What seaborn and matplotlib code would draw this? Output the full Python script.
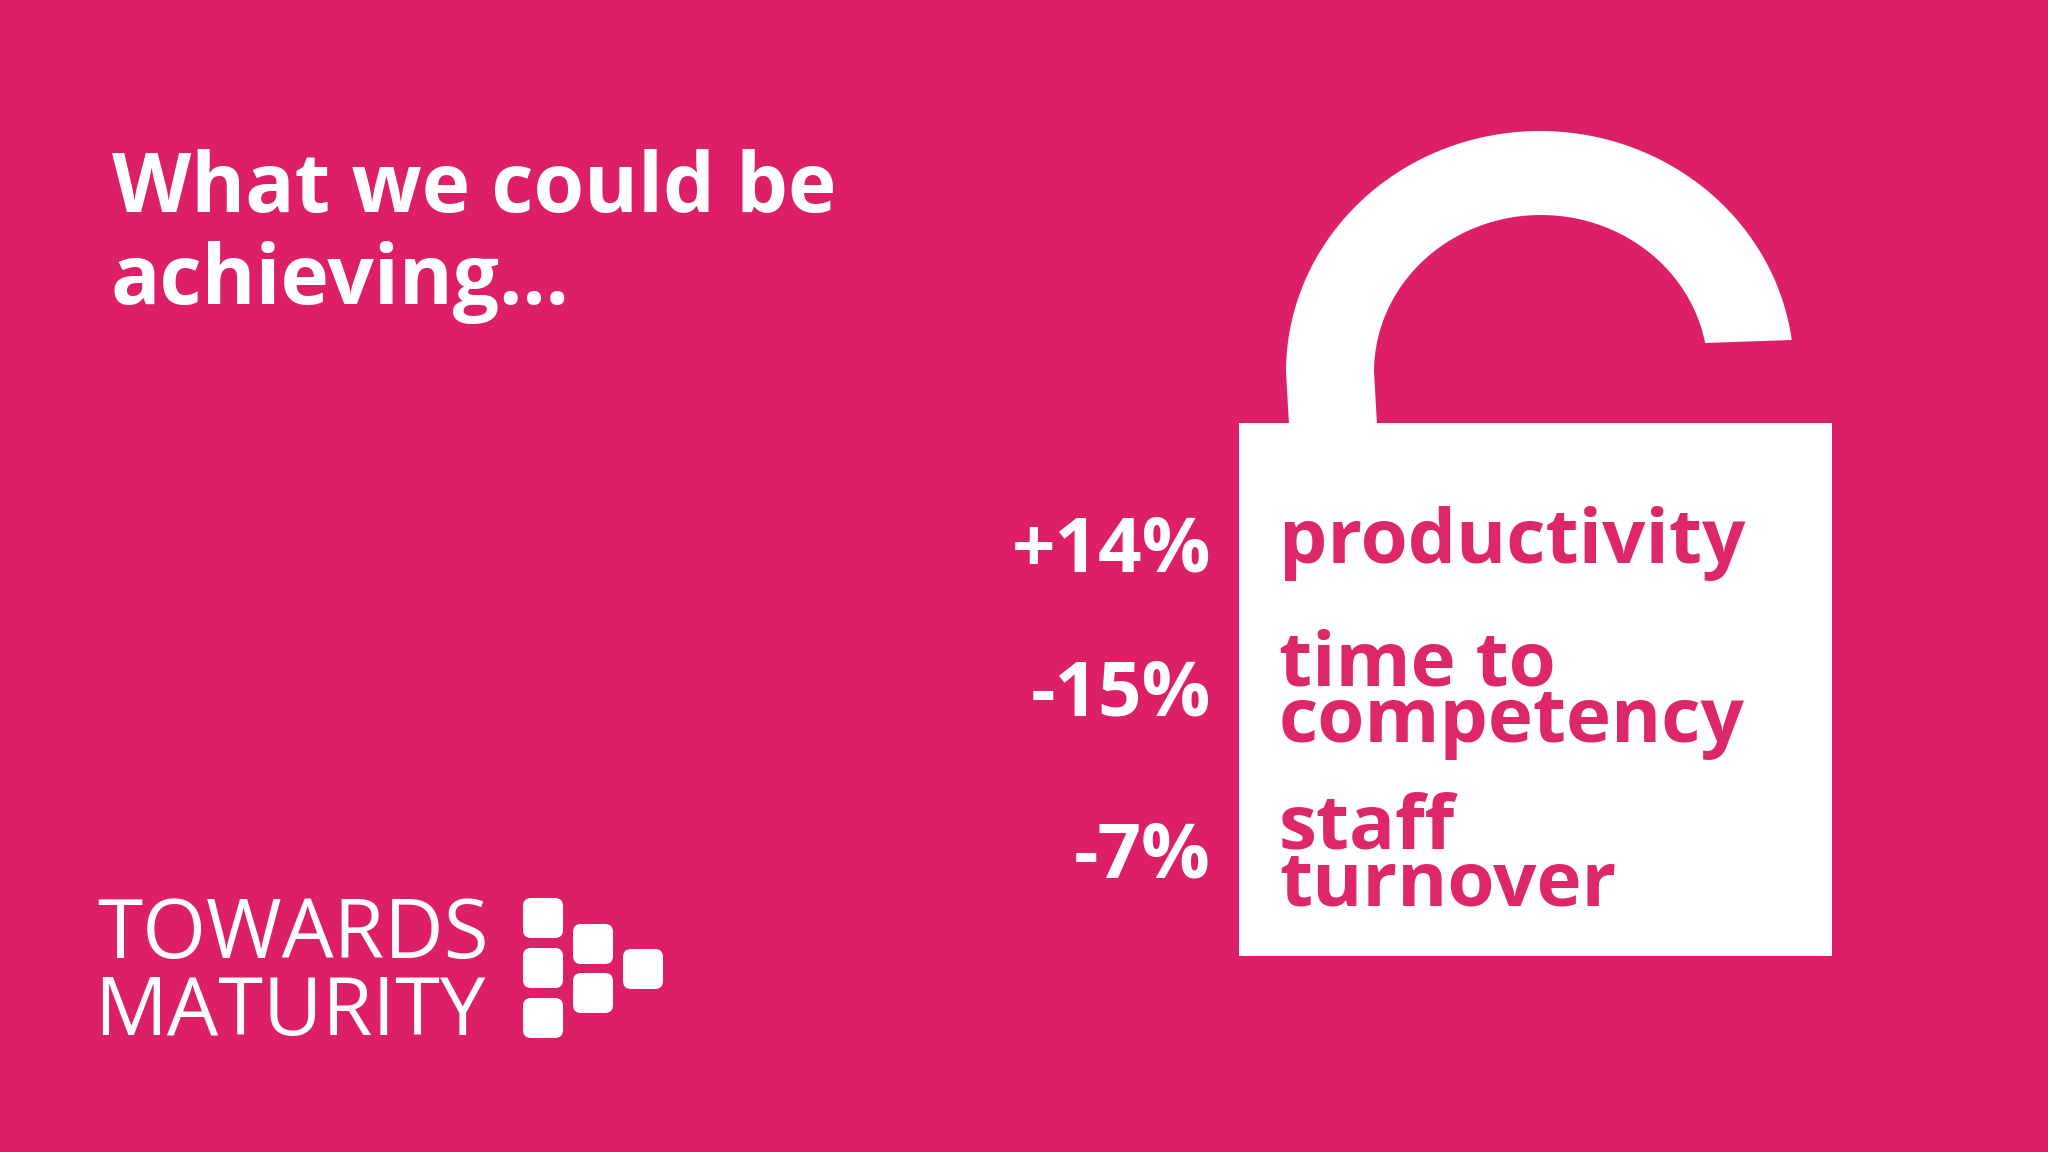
import matplotlib.pyplot as plt
import matplotlib.patches as mpatches
import numpy as np
import seaborn as sns

# Values and labels
changes = ['+14%', '-15%', '-7%']
measures = ['productivity', 'time to\ncompetency', 'staff\nturnover']
title_lines = ['What we could be', 'achieving...']
logo_lines = ['TOWARDS', 'MATURITY']

PINK = '#DD1F67'
TEXT_PINK = '#DE2769'

sns.set_theme(style="white")
plt.rcParams['font.family'] = ['Open Sans', 'DejaVu Sans']

fig = plt.figure(figsize=(20.48, 11.52), dpi=100)
fig.patch.set_facecolor(PINK)
ax = fig.add_axes([0, 0, 1, 1])
ax.set_xlim(0, 2048)
ax.set_ylim(1152, 0)
ax.axis('off')

# Title
for line, x, y in zip(title_lines, [112, 110], [212, 304]):
    ax.text(x, y, line, fontsize=59, fontweight='bold', color='white', ha='left', va='baseline')

# Lock body
ax.add_patch(mpatches.Rectangle((1239, 423), 593, 533, facecolor='white', edgecolor='none'))

# Shackle, the right end stops just above the body
outer_theta = np.linspace(np.pi, np.arcsin(32 / 241), 120)
inner_theta = np.linspace(np.pi, np.arcsin(29 / 157), 120)
outer_x = 1540 + 254 * np.cos(outer_theta)
outer_y = 372 - 241 * np.sin(outer_theta)
inner_x = 1541 + 167 * np.cos(inner_theta)
inner_y = 372 - 157 * np.sin(inner_theta)
shackle_x = np.r_[1289, outer_x, inner_x[::-1], 1377]
shackle_y = np.r_[424, outer_y, inner_y[::-1], 424]
ax.fill(shackle_x, shackle_y, color='white', lw=0)

# Percent changes, right aligned against the lock
for value, y in zip(changes, [572, 716, 878]):
    ax.text(1211, y, value, fontsize=55, fontweight='bold', color='white', ha='right', va='baseline')

# What each one measures
for label, y, spacing in zip(measures, [563, 742, 905], [1, 0.67, 0.67]):
    ax.text(1279, y, label, fontsize=55, fontweight='bold', color=TEXT_PINK, ha='left', va='baseline',
            linespacing=spacing)

# Logo
for line, x, y, size in zip(logo_lines, [97, 94], [958, 1035], [59, 58.5]):
    ax.text(x, y, line, fontsize=size, fontweight='normal', color='white', ha='left', va='baseline')

logo_squares = [(523, 898), (523, 948), (523, 998), (573, 924), (573, 973), (623, 949)]
for x, y in logo_squares:
    ax.add_patch(mpatches.FancyBboxPatch((x + 7, y + 7), 26, 26, boxstyle='round,pad=7,rounding_size=8',
                                         facecolor='white', edgecolor='none'))

fig.savefig('out.png', dpi=100, facecolor=PINK)
